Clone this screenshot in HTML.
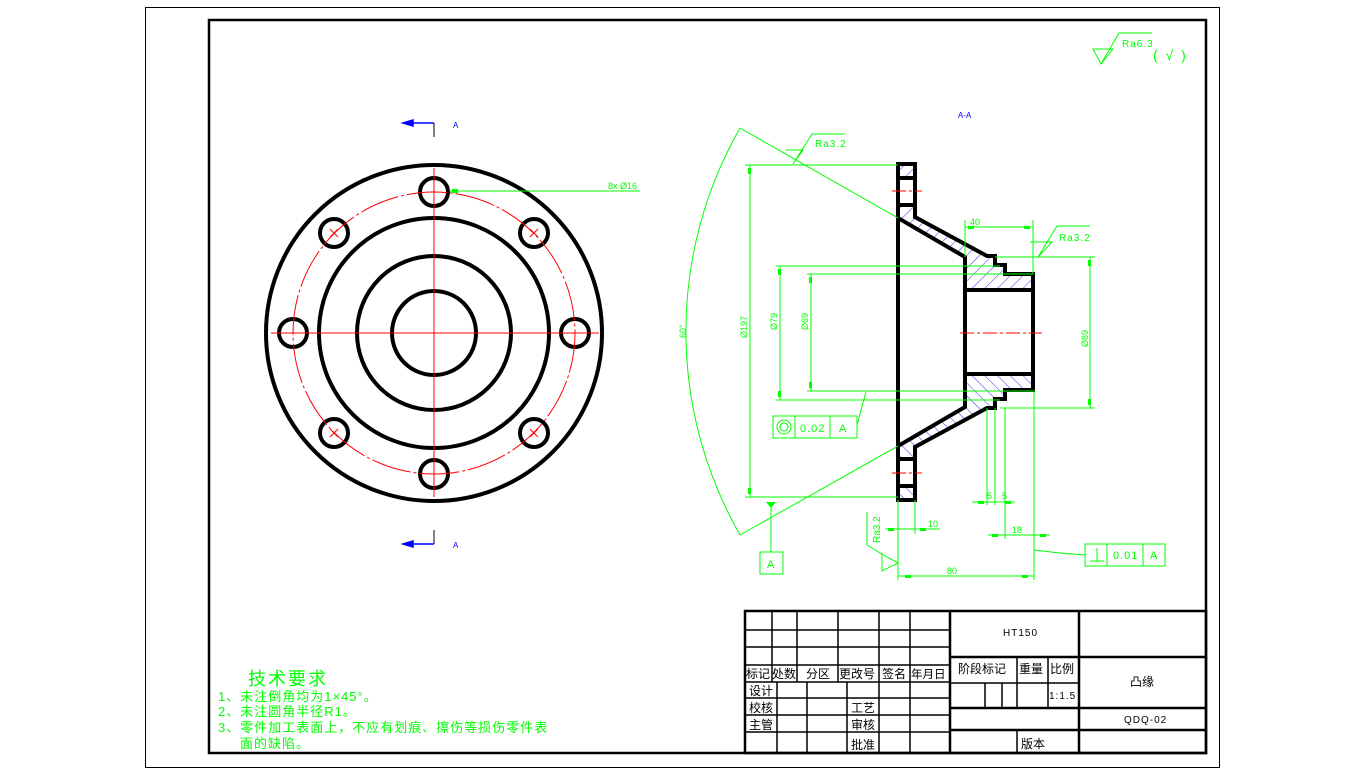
<!DOCTYPE html>
<html><head><meta charset="utf-8"><style>
html,body{margin:0;padding:0;background:#fff;}
svg{display:block;}
text{font-family:"Liberation Sans","Noto Sans CJK SC",sans-serif;}
</style></head><body>
<svg width="1365" height="775" viewBox="0 0 1365 775" xmlns="http://www.w3.org/2000/svg">
<defs>
<pattern id="h" width="9" height="9" patternUnits="userSpaceOnUse" patternTransform="rotate(45)">
<line x1="0" y1="0" x2="0" y2="9" stroke="#0000ff" stroke-width="0.8"/>
</pattern>
<g id="half">
<path d="M898,164 L915,164 L915,217 L987,256 L995,256 L995,265 L1005,265 L1005,274 L1033,274 L1033,290 L965,290 L965,257 L898,218 Z" fill="url(#h)" stroke="#000" stroke-width="4" stroke-linejoin="miter"/>
<rect x="900" y="178" width="13" height="27" fill="#fff"/>
<line x1="898" y1="178" x2="915" y2="178" stroke="#000" stroke-width="4"/>
<line x1="898" y1="205" x2="915" y2="205" stroke="#000" stroke-width="4"/>
</g>
</defs>
<rect x="0" y="0" width="1365" height="775" fill="#fff"/>
<rect x="145.5" y="7.5" width="1074" height="760" fill="none" stroke="#000" stroke-width="1"/>
<rect x="209" y="20" width="997" height="733" fill="none" stroke="#000" stroke-width="2.5"/>

<!-- LEFT VIEW -->
<g fill="none" stroke="#000" stroke-width="4">
<circle cx="434" cy="333" r="168"/>
<circle cx="434" cy="333" r="115"/>
<circle cx="434" cy="333" r="77"/>
<circle cx="434" cy="333" r="42"/>
<circle cx="434" cy="192" r="14"/>
<circle cx="434" cy="474" r="14"/>
<circle cx="293" cy="333" r="14"/>
<circle cx="575" cy="333" r="14"/>
<circle cx="334" cy="233" r="14"/>
<circle cx="534" cy="233" r="14"/>
<circle cx="334" cy="433" r="14"/>
<circle cx="534" cy="433" r="14"/>
</g>
<g stroke="#ff0000" stroke-width="1" fill="none">
<circle cx="434" cy="333" r="141" stroke-dasharray="40,3,3,3"/>
<line x1="434" y1="168" x2="434" y2="497"/>
<line x1="271" y1="333" x2="599" y2="333"/>
<path d="M330,229 l8,8 M338,229 l-8,8 M530,229 l8,8 M538,229 l-8,8 M330,429 l8,8 M338,429 l-8,8 M530,429 l8,8 M538,429 l-8,8"/>
</g>
<line x1="450" y1="191" x2="640" y2="191" stroke="#00ff00" stroke-width="1"/>
<rect x="452" y="189" width="6" height="4" fill="#00ff00"/>
<text x="608" y="189" font-size="9" fill="#00ff00">8x Ø16</text>
<!-- section arrows -->
<g stroke="#0000ff" stroke-width="1.5" fill="#0000ff">
<line x1="410" y1="123" x2="434" y2="123"/><line x1="434" y1="123" x2="434" y2="137" stroke="#000" stroke-width="1"/>
<path d="M403,123 l10,-3 v6z"/>
<line x1="410" y1="544" x2="434" y2="544"/><line x1="434" y1="530" x2="434" y2="544" stroke="#000" stroke-width="1"/>
<path d="M403,544 l10,-3 v6z"/>
</g>
<text x="453" y="128" font-size="8" fill="#0000ff">A</text>
<text x="453" y="548" font-size="8" fill="#0000ff">A</text>
<text x="958" y="118" font-size="8" fill="#0000ff">A-A</text>

<!-- SECTION VIEW -->
<use href="#half"/>
<use href="#half" transform="translate(0,664) scale(1,-1)"/>
<line x1="898" y1="164" x2="898" y2="500" stroke="#000" stroke-width="4"/>
<line x1="965" y1="257" x2="965" y2="407" stroke="#000" stroke-width="4"/>
<line x1="1033" y1="274" x2="1033" y2="390" stroke="#000" stroke-width="4"/>
<g stroke="#ff0000" stroke-width="1" stroke-dasharray="14,3,3,3">
<line x1="892" y1="191" x2="922" y2="191"/>
<line x1="892" y1="473" x2="922" y2="473"/>
<line x1="960" y1="333" x2="1042" y2="333"/>
</g>

<!-- DIMENSIONS -->
<g stroke="#00ff00" stroke-width="1" fill="none">
<line x1="745" y1="165" x2="898" y2="165"/><line x1="745" y1="497" x2="898" y2="497"/>
<line x1="750" y1="165" x2="750" y2="497"/>
<line x1="776" y1="266" x2="1000" y2="266"/><line x1="776" y1="400" x2="1000" y2="400"/>
<line x1="780" y1="266" x2="780" y2="400"/>
<line x1="807" y1="274" x2="1033" y2="274"/><line x1="807" y1="391" x2="1033" y2="391"/>
<line x1="811" y1="274" x2="811" y2="391"/>
<line x1="995" y1="257" x2="1095" y2="257"/><line x1="1000" y1="408" x2="1095" y2="408"/>
<line x1="1090" y1="257" x2="1090" y2="408"/>
<line x1="740" y1="128" x2="898" y2="218"/><line x1="740" y1="535" x2="898" y2="446"/>
<path d="M740,128 A410,410 0 0 0 740,535"/>
<line x1="965" y1="227" x2="1033" y2="227"/>
<line x1="965" y1="220" x2="965" y2="257"/><line x1="1033" y1="220" x2="1033" y2="274"/>
<line x1="898" y1="576" x2="1034" y2="576"/>
<line x1="898" y1="500" x2="898" y2="580"/><line x1="1034" y1="390" x2="1034" y2="580"/>
<line x1="885" y1="529" x2="940" y2="529"/><line x1="915" y1="500" x2="915" y2="534"/>
<line x1="987" y1="408" x2="987" y2="505"/><line x1="995" y1="408" x2="995" y2="505"/><line x1="1005" y1="408" x2="1005" y2="539"/>
<line x1="972" y1="502" x2="1015" y2="502"/>
<line x1="988" y1="535" x2="1050" y2="535"/>
<path d="M786,150 L803,150 L793,164 L812,134 L845,134"/>
<path d="M1030,242 L1052,242 L1038,257 L1057,226 L1090,226"/>
<path d="M867,512 L867,545 L880,553 L898,563 L882,571 L882,553"/>
<path d="M1093,49 L1113,49 L1101,64 Z"/>
<path d="M1101,64 L1119,33 L1152,33"/>
<rect x="773" y="416" width="84" height="22"/>
<line x1="795" y1="416" x2="795" y2="438"/><line x1="830" y1="416" x2="830" y2="438"/>
<circle cx="784" cy="427" r="7"/><circle cx="784" cy="427" r="4"/>
<line x1="857" y1="425" x2="866" y2="392"/>
<line x1="771" y1="502" x2="771" y2="552"/>
<rect x="760" y="552" width="23" height="22"/>
<rect x="1085" y="544" width="80" height="22"/>
<line x1="1107" y1="544" x2="1107" y2="566"/><line x1="1143" y1="544" x2="1143" y2="566"/>
<path d="M1090,561 h14 M1097,561 v-13"/>
<line x1="1085" y1="555" x2="1060" y2="553"/><line x1="1060" y1="553" x2="1034" y2="550"/>
</g>
<g fill="#00ff00">
<path d="M766,502 h10 l-5,6z"/>
<rect x="748" y="168" width="3" height="6"/><rect x="748" y="488" width="3" height="6"/>
<rect x="778" y="269" width="3" height="6"/><rect x="778" y="391" width="3" height="6"/>
<rect x="809" y="277" width="3" height="6"/><rect x="809" y="382" width="3" height="6"/>
<rect x="1088" y="260" width="3" height="6"/><rect x="1088" y="399" width="3" height="6"/>
<rect x="968" y="226" width="6" height="3"/><rect x="1024" y="226" width="6" height="3"/>
<rect x="905" y="575" width="6" height="3"/><rect x="1022" y="575" width="6" height="3"/>
<rect x="888" y="528" width="6" height="3"/><rect x="920" y="528" width="6" height="3"/>
<rect x="978" y="501" width="6" height="3"/><rect x="1005" y="501" width="6" height="3"/>
<rect x="992" y="534" width="6" height="3"/><rect x="1040" y="534" width="6" height="3"/>
</g>
<g fill="#00ff00" font-size="9">
<text x="815" y="147" font-size="10" letter-spacing="1">Ra3.2</text>
<text x="1059" y="241" font-size="10" letter-spacing="1">Ra3.2</text>
<text x="1122" y="47" font-size="10" letter-spacing="1">Ra6.3</text>
<text x="1153" y="60" font-size="14" letter-spacing="2">( √ )</text>
<text x="970" y="225">40</text>
<text x="947" y="574">80</text>
<text x="928" y="527">10</text>
<text x="987" y="499">5</text>
<text x="1002" y="499">5</text>
<text x="1012" y="533">18</text>
<text x="800" y="432" font-size="11" letter-spacing="1">0.02</text>
<text x="839" y="432" font-size="11">A</text>
<text x="767" y="568" font-size="11">A</text>
<text x="1113" y="559" font-size="11" letter-spacing="1">0.01</text>
<text x="1150" y="559" font-size="11">A</text>
<text transform="translate(747,338) rotate(-90)">Ø197</text>
<text transform="translate(777,330) rotate(-90)">Ø79</text>
<text transform="translate(808,330) rotate(-90)">Ø69</text>
<text transform="translate(1088,347) rotate(-90)">Ø89</text>
<text transform="translate(686,338) rotate(-90)">60°</text>
<text transform="translate(880,543) rotate(-90)" font-size="10">Ra3.2</text>
</g>

<!-- TECH REQUIREMENTS -->
<g fill="#00ff00">
<text x="248" y="685" font-size="18" letter-spacing="2">技术要求</text>
<text x="218" y="701" font-size="13" letter-spacing="1">1、未注倒角均为1×45°。</text>
<text x="218" y="716" font-size="13" letter-spacing="1">2、未注圆角半径R1。</text>
<text x="218" y="732" font-size="13" letter-spacing="1">3、零件加工表面上，不应有划痕、擦伤等损伤零件表</text>
<text x="240" y="748" font-size="13" letter-spacing="1">面的缺陷。</text>
</g>

<!-- TITLE BLOCK -->
<g stroke="#000" stroke-width="1.5" fill="none">
<rect x="745" y="611" width="461" height="142" stroke-width="2.5"/>
<line x1="745" y1="630" x2="950" y2="630"/><line x1="745" y1="647" x2="950" y2="647"/>
<line x1="745" y1="665" x2="950" y2="665"/><line x1="745" y1="682" x2="950" y2="682"/>
<line x1="745" y1="698" x2="950" y2="698"/><line x1="745" y1="715" x2="950" y2="715"/>
<line x1="745" y1="732" x2="950" y2="732"/>
<line x1="772" y1="611" x2="772" y2="682"/><line x1="797" y1="611" x2="797" y2="682"/>
<line x1="838" y1="611" x2="838" y2="682"/><line x1="879" y1="611" x2="879" y2="753"/>
<line x1="910" y1="611" x2="910" y2="753"/><line x1="950" y1="611" x2="950" y2="753" stroke-width="2.5"/>
<line x1="777" y1="682" x2="777" y2="753"/><line x1="807" y1="682" x2="807" y2="753"/>
<line x1="847" y1="682" x2="847" y2="753"/>
<line x1="1079" y1="611" x2="1079" y2="753" stroke-width="2.5"/>
<line x1="950" y1="657" x2="1206" y2="657" stroke-width="2.5"/>
<line x1="950" y1="683" x2="1079" y2="683"/>
<line x1="950" y1="708" x2="1206" y2="708" stroke-width="2.5"/>
<line x1="1079" y1="730" x2="1206" y2="730" stroke-width="2.5"/>
<line x1="950" y1="730" x2="1079" y2="730" stroke-width="2.5"/>
<line x1="1017" y1="657" x2="1017" y2="708"/><line x1="1048" y1="657" x2="1048" y2="708"/>
<line x1="985" y1="683" x2="985" y2="708"/><line x1="1002" y1="683" x2="1002" y2="708"/>
<line x1="1017" y1="730" x2="1017" y2="753"/>
</g>
<g fill="#000" font-size="12">
<text x="746" y="678">标记</text><text x="772" y="678">处数</text><text x="806" y="678">分区</text>
<text x="839" y="678">更改号</text><text x="882" y="678">签名</text><text x="911" y="678" font-size="11.5">年月日</text>
<text x="749" y="695">设计</text><text x="749" y="712">校核</text><text x="749" y="729">主管</text>
<text x="851" y="712">工艺</text><text x="851" y="729">审核</text><text x="851" y="749">批准</text>
<text x="958" y="673">阶段标记</text><text x="1019" y="673">重量</text><text x="1050" y="673">比例</text>
<text x="1049" y="699" font-size="10" letter-spacing="1">1:1.5</text>
<text x="1003" y="636" font-size="10" letter-spacing="1">HT150</text>
<text x="1130" y="686">凸缘</text>
<text x="1124" y="723" font-size="10" letter-spacing="1">QDQ-02</text>
<text x="1021" y="748">版本</text>
</g>
</svg>
</body></html>
